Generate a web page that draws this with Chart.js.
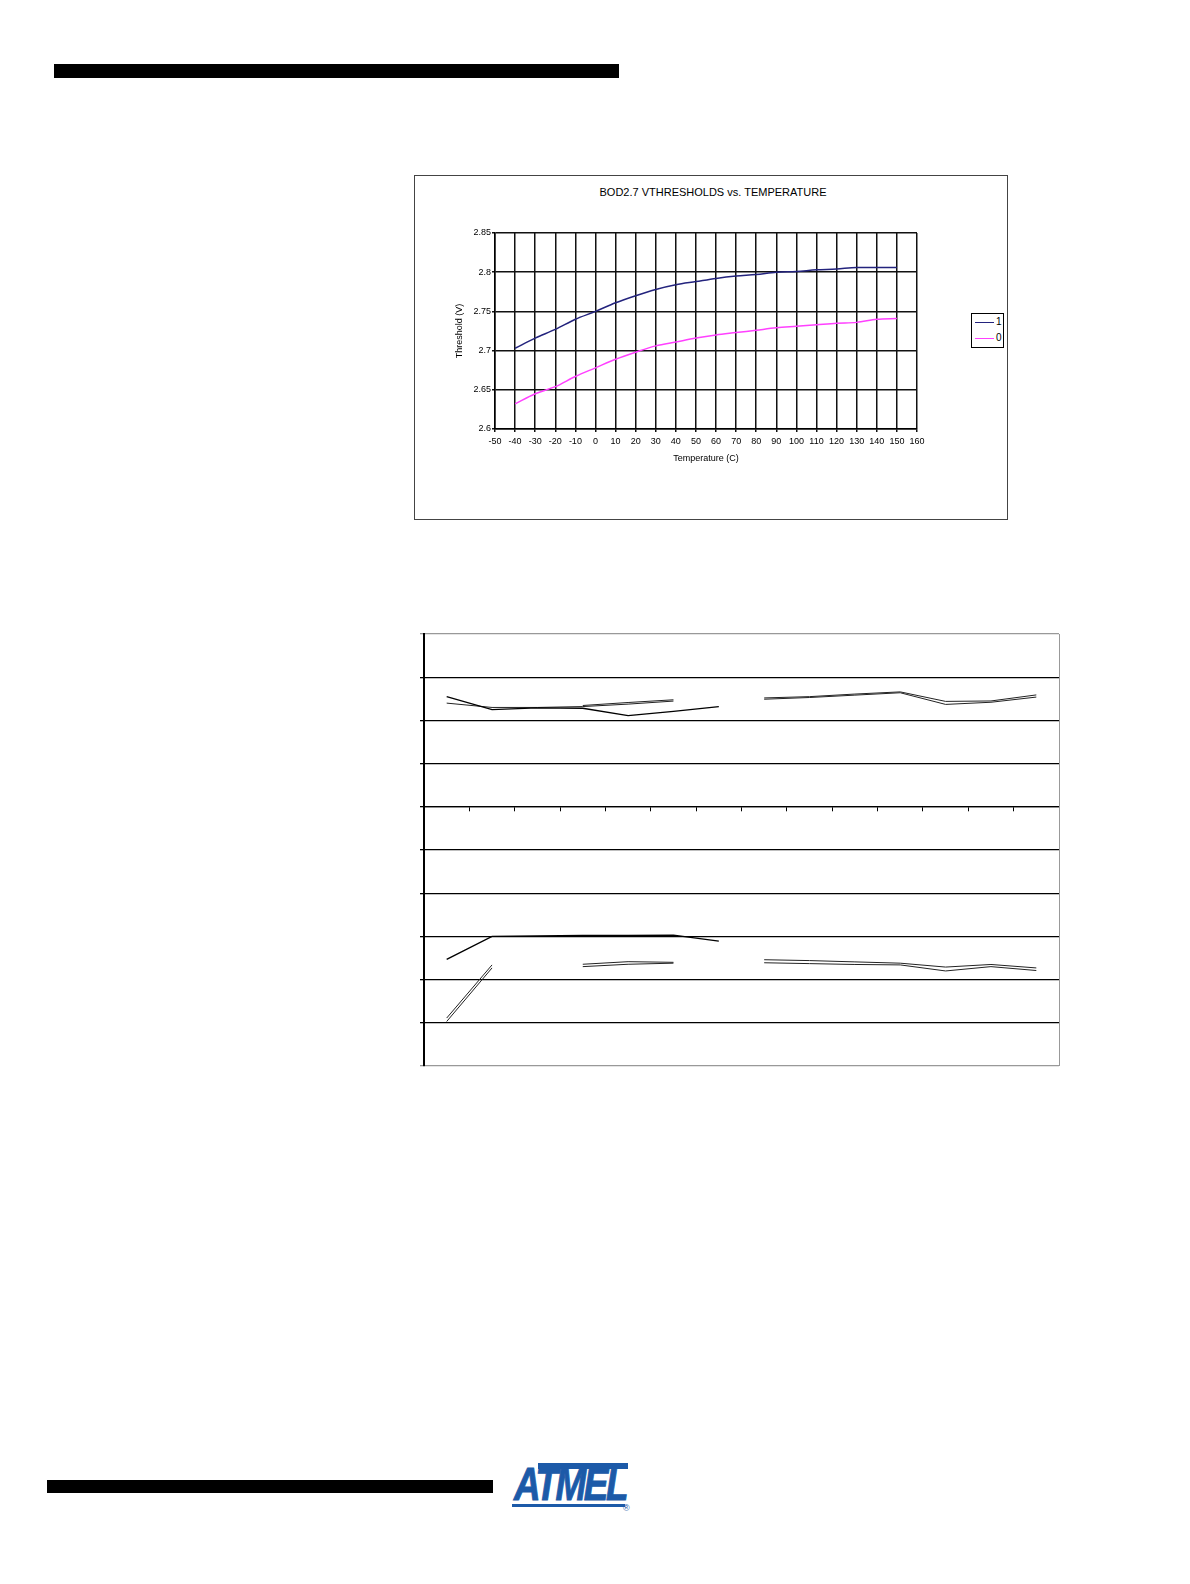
<!DOCTYPE html>
<html>
<head>
<meta charset="utf-8">
<script src="https://cdn.jsdelivr.net/npm/chart.js@4.4.1/dist/chart.umd.min.js"></script>
<style>
  body { margin: 0; background: #fff; }
  #page { position: relative; width: 1190px; height: 1584px; font-family: "Liberation Sans", Arial, sans-serif; color: #000; }
  .bar { position: absolute; background: #000; }
  #box1 { position: absolute; left: 414px; top: 175px; width: 594px; height: 345px; border: 1px solid #444; box-sizing: border-box; }
  #title1 { position: absolute; left: 414px; width: 598px; top: 186px; text-align: center; font-size: 11px; white-space: nowrap; }
  #legend1 { position: absolute; left: 971px; top: 313px; width: 33px; height: 35px; border: 1px solid #000; box-sizing: border-box; background: #fff; font-size: 10px; }
  #legend1 .row { position: relative; height: 16px; }
  #legend1 .sw { position: absolute; left: 3px; top: 8px; width: 19px; height: 0; border-top: 1.5px solid; }
  #legend1 .lb { position: absolute; left: 24px; top: 2px; }
  canvas { position: absolute; }
  #logo { position: absolute; left: 510px; top: 1460px; width: 125px; height: 56px; color: #1c5aa8; }
  #logo .top { position: absolute; left: 28px; top: 3px; width: 90px; height: 6px; background: #1c5aa8; }
  #logo .txt { position: absolute; left: 4px; top: 2px; font-size: 46px; font-weight: bold; font-style: italic; letter-spacing: -3px; transform: scaleX(0.8); transform-origin: left top; line-height: 44px; -webkit-text-stroke: 1px #1c5aa8; }
  #logo .under { position: absolute; left: 2px; top: 44px; width: 113px; height: 3px; background: #1c5aa8; }
  #logo .reg { position: absolute; left: 113px; top: 43px; font-size: 9px; }
</style>
</head>
<body>
<div id="page">
  <div class="bar" style="left:54px; top:64px; width:565px; height:14px;"></div>

  <div id="box1"></div>
  <div id="title1">BOD2.7 VTHRESHOLDS vs. TEMPERATURE</div>
  <canvas id="chart1" width="594" height="345" style="left:414px; top:175px;"></canvas>
  <div id="legend1"></div>

  <canvas id="chart2" width="670" height="450" style="left:404px; top:624px;"></canvas>

  <div class="bar" style="left:47px; top:1480px; width:446px; height:13px;"></div>
  <div id="logo">
    <div class="top"></div>
    <div class="txt">ATMEL</div>
    <div class="under"></div>
    <div class="reg">®</div>
  </div>
</div>

<script>
'use strict';

// BOD 2.7V thresholds vs temperature
const temperatures = [-40, -30, -20, -10, 0, 10, 20, 30, 40, 50, 60, 70, 80, 90, 100, 110, 120, 130, 140, 150];
const bod1 = [2.703, 2.716, 2.727, 2.740, 2.750, 2.761, 2.770, 2.778, 2.784, 2.788, 2.792, 2.795, 2.797, 2.800, 2.801, 2.803, 2.804, 2.806, 2.806, 2.806];
const bod0 = [2.632, 2.645, 2.654, 2.667, 2.678, 2.689, 2.698, 2.706, 2.711, 2.716, 2.720, 2.723, 2.726, 2.729, 2.731, 2.733, 2.735, 2.736, 2.740, 2.741];
const tempTicks = [-50, -40, -30, -20, -10, 0, 10, 20, 30, 40, 50, 60, 70, 80, 90, 100, 110, 120, 130, 140, 150, 160];
const thresholdTicks = [2.6, 2.65, 2.7, 2.75, 2.8, 2.85];

// second chart (no labels in the source)
const positions = ['1', '2', '3', '4', '5', '6', '7', '8', '9', '10', '11', '12', '13', '14'];
const upperA = [2.55, 2.25, 2.29, 2.28, 2.11, 2.21, 2.32, null, null, null, null, null, null, null];
const upperB = [null, null, null, 2.345, 2.414, 2.477, null, 2.52, 2.55, 2.61, 2.66, 2.44, 2.45, 2.59];
const upperC = [2.40, 2.30, 2.30, 2.32, 2.377, 2.447, null, 2.49, 2.53, 2.585, 2.64, 2.37, 2.42, 2.54];
const lowerA = [-3.53, -3.0, -2.99, -2.98, -2.98, -2.97, -3.11, null, null, null, null, null, null, null];
const lowerB = [-4.89, -3.66, null, -3.645, -3.585, -3.60, null, -3.54, -3.56, -3.59, -3.62, -3.71, -3.65, -3.73];
const lowerC = [-4.97, -3.73, null, -3.70, -3.645, -3.62, null, -3.61, -3.63, -3.65, -3.66, -3.80, -3.70, -3.79];
const levelTicks = [-6, -5, -4, -3, -2, -1, 0, 1, 2, 3, 4];

Chart.defaults.font.family = '"Liberation Sans", Arial, sans-serif';
Chart.defaults.color = '#000';
Chart.defaults.animation = false;

function points(values) {
  return temperatures.map((t, i) => ({ x: t, y: values[i] }));
}

const chart1 = new Chart(document.getElementById('chart1'), {
  type: 'line',
  data: {
    datasets: [
      { label: '1', data: points(bod1), borderColor: '#23237d', borderWidth: 1.5, pointRadius: 0, cubicInterpolationMode: 'monotone' },
      { label: '0', data: points(bod0), borderColor: '#ff40ff', borderWidth: 1.5, pointRadius: 0, cubicInterpolationMode: 'monotone' }
    ]
  },
  options: {
    responsive: false,
    layout: { padding: { left: 0, right: 91, top: 58, bottom: 51 } },
    plugins: { legend: { display: false }, title: { display: false }, tooltip: { enabled: false } },
    scales: {
      x: {
        type: 'linear', min: -50, max: 160,
        afterBuildTicks: s => { s.ticks = tempTicks.map(v => ({ value: v })); },
        afterFit: s => { s.height = 40; },
        ticks: { font: { size: 9 }, padding: 4, maxRotation: 0, autoSkip: false, callback: v => String(v) },
        grid: { color: '#111', lineWidth: 1.5, tickLength: 3 },
        border: { color: '#000', width: 1.5 },
        title: { display: true, text: 'Temperature (C)', font: { size: 9 }, padding: { top: 0, bottom: 5 } }
      },
      y: {
        min: 2.6, max: 2.85,
        afterBuildTicks: s => { s.ticks = thresholdTicks.map(v => ({ value: v })); },
        afterFit: s => { s.width = 81; },
        ticks: { font: { size: 9 }, padding: 1, callback: v => String(+v.toFixed(2)) },
        grid: { color: '#111', lineWidth: 1.5, tickLength: 3 },
        border: { color: '#000', width: 1.5 },
        title: { display: true, text: 'Threshold (V)', font: { size: 9 }, padding: { top: 40, bottom: 0 } }
      }
    }
  }
});

// legend as html, from the datasets
const legendBox = document.getElementById('legend1');
chart1.data.datasets.forEach(ds => {
  const row = document.createElement('div');
  row.className = 'row';
  row.innerHTML = '<span class="sw" style="border-color:' + ds.borderColor + '"></span><span class="lb">' + ds.label + '</span>';
  legendBox.appendChild(row);
});

const rightEdge = {
  id: 'rightEdge',
  afterDraw(chart) {
    const a = chart.chartArea;
    const ctx = chart.ctx;
    ctx.save();
    ctx.strokeStyle = '#999';
    ctx.lineWidth = 1;
    ctx.beginPath();
    ctx.moveTo(Math.round(a.right) + 0.5, a.top);
    ctx.lineTo(Math.round(a.right) + 0.5, a.bottom);
    ctx.stroke();
    ctx.restore();
  }
};

function series(values, width, color) {
  return { data: values, borderColor: color, borderWidth: width, pointRadius: 0, tension: 0, spanGaps: false };
}

new Chart(document.getElementById('chart2'), {
  type: 'line',
  data: {
    labels: positions,
    datasets: [
      series(upperA, 1.4, '#000'),
      series(upperB, 1, '#222'),
      series(upperC, 1, '#222'),
      series(lowerA, 1.4, '#000'),
      series(lowerB, 1, '#222'),
      series(lowerC, 1, '#222')
    ]
  },
  options: {
    responsive: false,
    layout: { padding: { left: 10, right: 15, top: 10, bottom: 8 } },
    plugins: { legend: { display: false }, title: { display: false }, tooltip: { enabled: false } },
    scales: {
      x: {
        type: 'category',
        offset: true,
        position: { y: 0 },
        afterFit: s => { s.height = 0; },
        ticks: { display: false },
        grid: { offset: true, drawOnChartArea: false, color: '#000', lineWidth: 1, tickLength: 4 },
        border: { color: '#000', width: 1.3 }
      },
      y: {
        min: -6, max: 4,
        afterBuildTicks: s => { s.ticks = levelTicks.map(v => ({ value: v })); },
        afterFit: s => { s.width = 10; },
        ticks: { display: false },
        grid: {
          color: c => (c.tick && (c.tick.value === 4 || c.tick.value === -6)) ? '#999' : '#000',
          lineWidth: 1.3,
          tickLength: 4
        },
        border: { color: '#000', width: 2 }
      }
    }
  },
  plugins: [rightEdge]
});
</script>
</body>
</html>
